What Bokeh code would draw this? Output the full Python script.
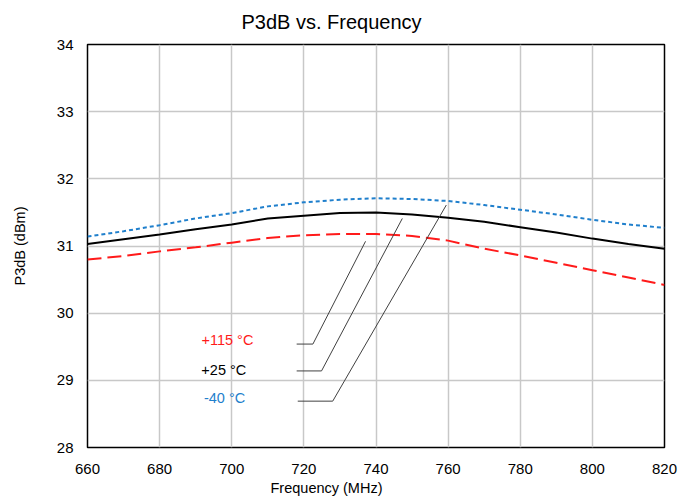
from bokeh.plotting import figure
from bokeh.models import Range1d, FixedTicker, Title, ColumnDataSource
from bokeh.core.properties import value
from bokeh.embed import file_html
from bokeh.resources import INLINE

freq = [660, 670, 680, 690, 700, 710, 720, 730, 740, 750, 760, 770, 780, 790, 800, 810, 820]
p3db_m40 = [31.14, 31.22, 31.31, 31.41, 31.49, 31.59, 31.65, 31.69, 31.71, 31.70, 31.67, 31.61, 31.54, 31.47, 31.39, 31.32, 31.27]
p3db_p25 = [31.03, 31.10, 31.17, 31.25, 31.32, 31.41, 31.45, 31.49, 31.50, 31.47, 31.42, 31.36, 31.28, 31.20, 31.11, 31.03, 30.96]
p3db_p115 = [30.80, 30.85, 30.92, 30.98, 31.05, 31.12, 31.16, 31.18, 31.18, 31.15, 31.08, 30.96, 30.86, 30.75, 30.64, 30.53, 30.42]

x_ticks = [660, 680, 700, 720, 740, 760, 780, 800, 820]
y_ticks = [28, 29, 30, 31, 32, 33, 34]

label_texts = ["+115 °C", "+25 °C", "-40 °C"]
label_colors = ["#ff1a1a", "#000000", "#1f7fcc"]
label_x = [698.8, 697.8, 698.0]
label_y = [29.60, 29.16, 28.73]

leader_xs = [[718.0, 722.5, 737.1], [718.0, 724.9, 747.3], [718.3, 728.0, 759.5]]
leader_ys = [[29.54, 29.54, 31.07], [29.14, 29.14, 31.41], [28.69, 28.69, 31.61]]

FONT = "Liberation Sans"

p = figure(width=688, height=496, output_backend="svg", toolbar_location=None,
           x_range=Range1d(660, 820), y_range=Range1d(28, 34),
           min_border_left=87, min_border_right=24, min_border_top=44, min_border_bottom=49)
p.title = Title(text="P3dB vs. Frequency", align="left", offset=154,
                text_font=FONT, text_font_size="20px", text_font_style="normal",
                text_color="#000000", standoff=19, vertical_align="top")
p.add_layout(Title(text="Frequency (MHz)", align="left", offset=183,
                   text_font=FONT, text_font_size="14.5px", text_font_style="normal",
                   text_color="#000000", standoff=2), "below")

p.outline_line_color = "#000000"
p.outline_line_width = 1.5
p.background_fill_color = "white"
p.border_fill_color = "white"

for ax in (p.xaxis[0], p.yaxis[0]):
    ax.axis_line_color = None
    ax.major_tick_line_color = None
    ax.minor_tick_line_color = None
    ax.major_tick_out = 0
    ax.major_tick_in = 0
    ax.minor_tick_out = 0
    ax.major_label_text_font = FONT
    ax.major_label_text_font_size = "15px"
    ax.major_label_text_color = "#000000"

p.xaxis.ticker = FixedTicker(ticks=x_ticks)
p.yaxis.ticker = FixedTicker(ticks=y_ticks)
p.xaxis.major_label_standoff = 16
p.yaxis.major_label_standoff = 14
p.yaxis.axis_label = "P3dB (dBm)"
p.yaxis.axis_label_text_font = FONT
p.yaxis.axis_label_text_font_size = "14.5px"
p.yaxis.axis_label_text_font_style = "normal"
p.yaxis.axis_label_text_color = "#000000"
p.yaxis.axis_label_standoff = 26

p.xgrid.ticker = FixedTicker(ticks=x_ticks)
p.ygrid.ticker = FixedTicker(ticks=y_ticks)
p.grid.grid_line_color = "#c8c8c8"
p.grid.grid_line_width = 1.5

p.line(freq, p3db_m40, line_color="#1f7fcc", line_width=2, line_dash="4 3")
p.line(freq, p3db_p25, line_color="#000000", line_width=2)
p.line(freq, p3db_p115, line_color="#ff1a1a", line_width=2, line_dash="14 6")

p.multi_line(leader_xs, leader_ys, line_color="#404040", line_width=1)

src = ColumnDataSource(dict(x=label_x, y=label_y, t=label_texts, c=label_colors))
p.text(x="x", y="y", text="t", text_color="c", source=src,
       text_font=value(FONT), text_font_size="14.5px",
       text_align="center", text_baseline="middle")

open("out.html", "w").write(file_html(p, INLINE))
